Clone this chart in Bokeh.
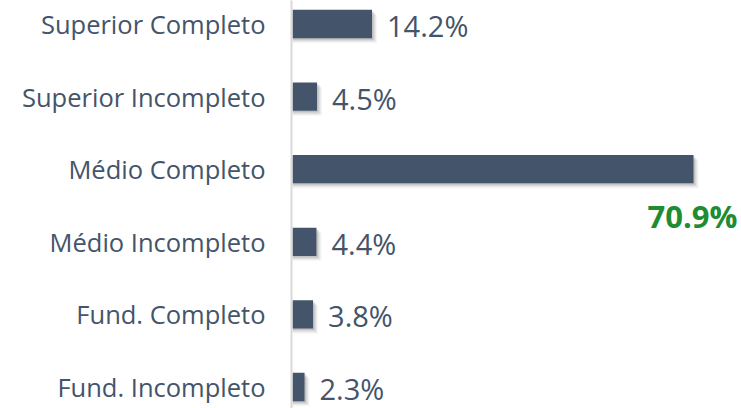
from bokeh.plotting import figure
from bokeh.models import ColumnDataSource, Range1d, FixedTicker
from bokeh.core.properties import value
from bokeh.embed import file_html
from bokeh.resources import INLINE

categories = ["Fund. Incompleto", "Fund. Completo", "Médio Incompleto",
              "Médio Completo", "Superior Incompleto", "Superior Completo"]
values = [2.3, 3.8, 4.4, 70.9, 4.5, 14.2]
labels = ["2.3%", "3.8%", "4.4%", "70.9%", "4.5%", "14.2%"]

BAR = "#44546A"
TXT = "#44546A"
GREEN = "#1E8C32"
FONT = "Open Sans"

pos = [i + 0.5 for i in range(len(categories))]
maxv = max(values)
src = ColumnDataSource(dict(y=pos, val=values, lab=labels))
norm = ColumnDataSource(dict(
    y=[y for y, v in zip(pos, values) if v != maxv],
    val=[v for v in values if v != maxv],
    lab=[l for l, v in zip(labels, values) if v != maxv]))
top = ColumnDataSource(dict(
    y=[y for y, v in zip(pos, values) if v == maxv],
    val=[v for v in values if v == maxv],
    lab=[l for l, v in zip(labels, values) if v == maxv]))

PXX = 5.67   # px per percent
PXY = 72.6   # px per category
TOPC = 23.5  # px from top to first category centre
ytop = 5.5 + TOPC / PXY
p = figure(width=741, height=408, output_backend="svg", toolbar_location=None,
           y_range=Range1d(ytop - 408 / PXY, ytop), x_range=Range1d(0, 450 / PXX),
           x_axis_location=None,
           min_border_left=291, min_border_right=0, min_border_top=0, min_border_bottom=0)

p.outline_line_color = None
p.grid.visible = False
p.background_fill_color = "white"
p.border_fill_color = "white"

# soft shadow
for i, a in enumerate([0.16, 0.12, 0.08, 0.05]):
    dx = (1.5 + i * 1.2) / PXX
    dy = (1.5 + i * 1.2) / PXY
    p.hbar(y=[y - dy for y in pos], left=0.2, right=[v + dx for v in values], height=0.39,
           fill_color="#555555", fill_alpha=a, line_color=None)

p.hbar(y="y", left=0.2, right="val", height=0.39, source=src,
       fill_color=BAR, line_color=None)

p.text(x="val", y="y", text="lab", source=norm, x_offset=15, y_offset=1.5,
       text_baseline="middle", text_align="left", text_color=TXT,
       text_font=value(FONT), text_font_size="29px")
p.text(x="val", y="y", text="lab", source=top, x_offset=44, y_offset=47,
       text_baseline="middle", text_align="right", text_color=GREEN,
       text_font=value(FONT), text_font_size="31px", text_font_style="bold")

ax = p.yaxis[0]
ax.ticker = FixedTicker(ticks=pos)
ax.major_label_overrides = {y: c for y, c in zip(pos, categories)}
ax.axis_line_color = "#D9D9D9"
ax.axis_line_width = 2
ax.major_tick_line_color = None
ax.minor_tick_line_color = None
ax.major_tick_out = 0
ax.major_tick_in = 0
ax.major_label_standoff = 26
ax.major_label_text_font = FONT
ax.major_label_text_font_size = "25.5px"
ax.major_label_text_color = TXT

open("out.html", "w").write(file_html(p, INLINE))
